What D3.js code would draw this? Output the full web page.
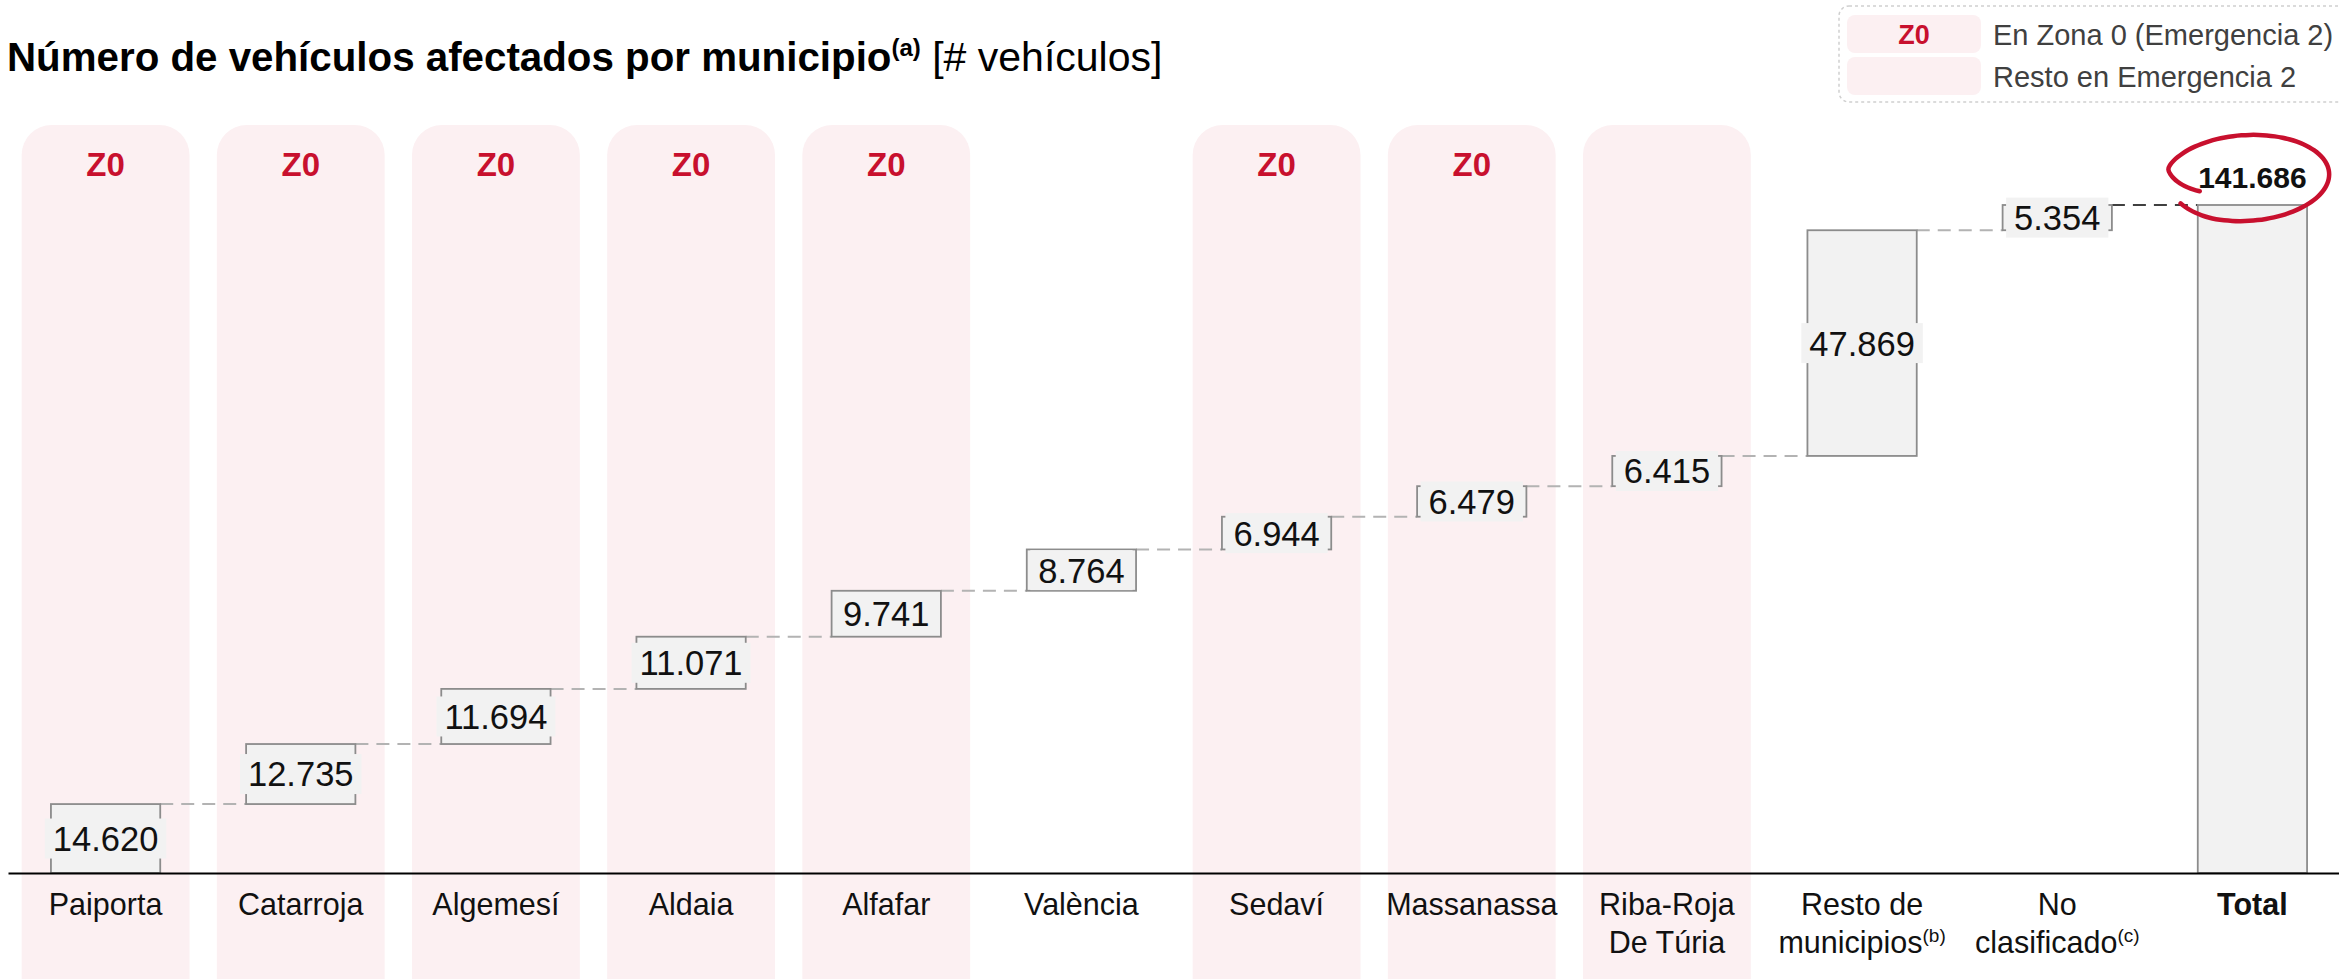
<!DOCTYPE html>
<html><head><meta charset="utf-8">
<script src="https://cdn.jsdelivr.net/npm/d3@7"></script>
<style>body{margin:0;background:#fff} svg{display:block}</style>
</head><body>
<svg id="c" width="2339" height="979"></svg>
<script>
// ---- data ----
const categories = ["Paiporta","Catarroja","Algemesí","Aldaia","Alfafar","València","Sedaví","Massanassa","Riba-Roja De Túria","Resto de municipios","No clasificado","Total"];
const labelLine1 = ["Paiporta","Catarroja","Algemesí","Aldaia","Alfafar","València","Sedaví","Massanassa","Riba-Roja","Resto de","No","Total"];
const labelLine2 = ["","","","","","","","","De Túria","municipios","clasificado",""];
const labelSup   = ["","","","","","","","","","(b)","(c)",""];
const values = [14620,12735,11694,11071,9741,8764,6944,6479,6415,47869,5354];
const totalValue = 141686;
const zones = ["Z0","Z0","Z0","Z0","Z0","","Z0","Z0","E2","","",""];
const legendLabels = ["En Zona 0 (Emergencia 2)","Resto en Emergencia 2"];

const svg = d3.select("#c");
const fmt = d3.formatLocale({decimal:",", thousands:".", grouping:[3], currency:["","€"]}).format(",d");

const x = d3.scaleBand().domain(categories).range([8, 2350]).paddingInner(0.44).paddingOuter(0.22);
const y = d3.scaleLinear().domain([0, totalValue]).range([873, 205]);
const bw = x.bandwidth();
const step = x.step();

const PINK = "#fcf0f2", RED = "#c8102e";

// ---- background columns ----
const colW = step*0.86;
svg.append("g").selectAll("rect").data(categories.filter((c,i)=>zones[i]!==""))
  .join("rect")
  .attr("x", d=>x(d)+bw/2-colW/2).attr("y",125).attr("width",colW).attr("height",884)
  .attr("rx",30).attr("fill",PINK);

svg.append("g").selectAll("text").data(categories.filter((c,i)=>zones[i]==="Z0"))
  .join("text")
  .attr("x", d=>x(d)+bw/2).attr("y",176).attr("text-anchor","middle")
  .attr("font-family","Liberation Sans, Arial, sans-serif").attr("font-weight","bold")
  .attr("font-size",33).attr("fill",RED).text("Z0");

// ---- title ----
const title = svg.append("text").attr("x",7).attr("y",71)
  .attr("font-family","Liberation Sans, Arial, sans-serif").attr("fill","#000");
title.append("tspan").attr("font-weight","bold").attr("font-size",40.3).text("Número de vehículos afectados por municipio");
title.append("tspan").attr("font-weight","bold").attr("font-size",24).attr("dy",-15).text("(a)");
title.append("tspan").attr("font-size",41).attr("dy",15).text(" [# vehículos]");

// ---- legend ----
const lg = svg.append("g");
lg.append("rect").attr("x",1839).attr("y",6).attr("width",520).attr("height",96).attr("rx",10)
  .attr("fill","none").attr("stroke","#cfcfcf").attr("stroke-width",1.5).attr("stroke-dasharray","3,3");
legendLabels.forEach((t,i)=>{
  lg.append("rect").attr("x",1847).attr("y",15+i*42).attr("width",134).attr("height",38).attr("rx",8).attr("fill",PINK);
  lg.append("text").attr("x",1993).attr("y",45+i*42).attr("font-family","Liberation Sans, Arial, sans-serif")
    .attr("font-size",29).attr("fill","#404040").text(t);
});
lg.append("text").attr("x",1914).attr("y",44).attr("text-anchor","middle")
  .attr("font-family","Liberation Sans, Arial, sans-serif").attr("font-weight","bold")
  .attr("font-size",27).attr("fill",RED).text("Z0");

// ---- waterfall data ----
let cum = 0;
const steps = values.map((v,i)=>{ const s = cum; cum += v; return {cat:categories[i], v, s, e:cum}; });
steps.push({cat:categories[11], v:totalValue, s:0, e:totalValue, total:true});

// connectors
const conn = svg.append("g");
for (let i=0;i<steps.length-1;i++){
  const a = steps[i], b = steps[i+1];
  conn.append("line")
    .attr("x1", x(a.cat)+bw).attr("x2", x(b.cat))
    .attr("y1", y(a.e)).attr("y2", y(a.e))
    .attr("stroke", b.total ? "#404040" : "#b3b3b3")
    .attr("stroke-width",2).attr("stroke-dasharray","13,8");
}

// bars
svg.append("g").selectAll("rect").data(steps).join("rect")
  .attr("x", d=>x(d.cat)).attr("width",bw)
  .attr("y", d=>y(d.e)).attr("height", d=>y(d.s)-y(d.e))
  .attr("fill","#f2f2f2").attr("stroke","#8c8c8c").attr("stroke-width",1.8);

// value labels
const FS = 34.5;
const lab = svg.append("g");
steps.filter(d=>!d.total).forEach(d=>{
  const cx = x(d.cat)+bw/2, cy = (y(d.s)+y(d.e))/2;
  const t = lab.append("text").attr("x",cx).attr("y",cy+FS*0.36).attr("text-anchor","middle")
    .attr("font-family","Liberation Sans, Arial, sans-serif").attr("font-size",FS).attr("fill","#111").text(fmt(d.v));
  const tw = t.node().getComputedTextLength();
  lab.insert("rect","text").attr("x",cx-tw/2-8).attr("width",tw+16).attr("y",cy-20).attr("height",40).attr("fill","#f2f2f2");
});
lab.selectAll("text").raise();

// total label
const tot = steps[steps.length-1];
svg.append("text").attr("x",x(tot.cat)+bw/2).attr("y",188).attr("text-anchor","middle")
  .attr("font-family","Liberation Sans, Arial, sans-serif").attr("font-weight","bold")
  .attr("font-size",30).attr("fill","#111").text(fmt(totalValue));

// hand-drawn ellipse
const ecx = x(tot.cat)+bw/2-6, ecy = 178, erx = 83, ery = 43, tilt = -0.06;
const pts = d3.range(0,61).map(k=>{
  const t = k/60;
  const th = (Math.PI-0.4) + t*(2*Math.PI-0.15);
  const sc = t<0.12 ? 0.62+0.38*(t/0.12) : (t>0.9 ? 1-0.05*((t-0.9)/0.1) : 1);
  const px = erx*sc*Math.cos(th), py = ery*sc*Math.sin(th);
  return [ecx + px*Math.cos(tilt) - py*Math.sin(tilt), ecy + px*Math.sin(tilt) + py*Math.cos(tilt)];
});
svg.append("path").attr("d", d3.line().curve(d3.curveBasis)(pts))
  .attr("fill","none").attr("stroke",RED).attr("stroke-width",4.5).attr("stroke-linecap","round");

// axis
const ax = svg.append("g").attr("transform","translate(0,873)").call(d3.axisBottom(x).tickSize(0).tickFormat(""));
ax.select(".domain").attr("stroke","#000").attr("stroke-width",2);

// category labels
const cl = svg.append("g").attr("font-family","Liberation Sans, Arial, sans-serif").attr("font-size",30.5).attr("fill","#111");
categories.forEach((c,i)=>{
  const cx = x(c)+bw/2;
  const t1 = cl.append("text").attr("x",cx).attr("y",915).attr("text-anchor","middle").text(labelLine1[i]);
  if (i===categories.length-1) t1.attr("font-weight","bold");
  if (labelLine2[i]) {
    const t2 = cl.append("text").attr("x",cx).attr("y",953).attr("text-anchor","middle");
    t2.append("tspan").text(labelLine2[i]);
    if (labelSup[i]) t2.append("tspan").attr("font-size",19).attr("dy",-11).text(labelSup[i]);
  }
});
</script>
</body></html>
